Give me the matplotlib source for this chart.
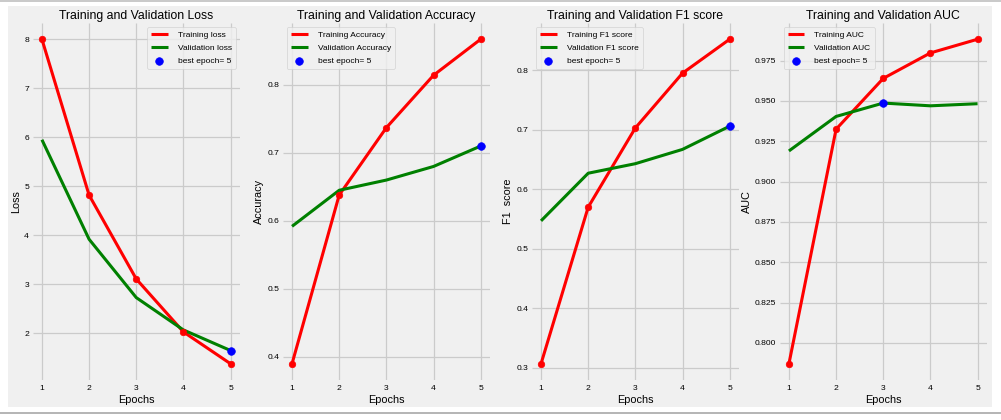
import matplotlib
matplotlib.use("Agg")
import matplotlib.pyplot as plt
from matplotlib.patches import Rectangle
from matplotlib.lines import Line2D

plt.style.use('fivethirtyeight')
plt.rcParams['font.family'] = ['Liberation Sans', 'DejaVu Sans']

epochs = [1, 2, 3, 4, 5]

tr_loss = [8.00, 4.82, 3.11, 2.03, 1.38]
val_loss = [5.95, 3.92, 2.73, 2.07, 1.65]
tr_acc = [0.390, 0.638, 0.737, 0.814, 0.867]
val_acc = [0.592, 0.645, 0.660, 0.680, 0.710]
tr_f1 = [0.307, 0.570, 0.703, 0.795, 0.852]
val_f1 = [0.547, 0.627, 0.643, 0.667, 0.706]
tr_auc = [0.787, 0.9325, 0.964, 0.9798, 0.9883]
val_auc = [0.919, 0.9404, 0.9487, 0.947, 0.9483]

best_epoch = [5, 5, 5, 3]
best_label = 'best epoch= 5'

panels = [
    ('Training and Validation Loss', 'Loss', tr_loss, val_loss, 'Training loss', 'Validation loss', 'upper right'),
    ('Training and Validation Accuracy', 'Accuracy', tr_acc, val_acc, 'Training Accuracy', 'Validation Accuracy', 'upper left'),
    ('Training and Validation F1 score', 'F1  score', tr_f1, val_f1, 'Training F1 score', 'Validation F1 score', 'upper left'),
    ('Training and Validation AUC', 'AUC', tr_auc, val_auc, 'Training AUC', 'Validation AUC', 'upper left'),
]

W, H = 1001, 420
fig = plt.figure(figsize=(W / 100, H / 100), dpi=100, facecolor='white')

# screenshot frame
fig.add_artist(Rectangle((8 / W, 1 - 407 / H), 984 / W, 401 / H, transform=fig.transFigure,
                         facecolor='#f0f0f0', edgecolor='none', zorder=-10))
fig.add_artist(Line2D([0, 1], [1 - 1 / H, 1 - 1 / H], transform=fig.transFigure, color='#c0c0c0', lw=1.2))
fig.add_artist(Line2D([0, 1], [1 - 412.5 / H, 1 - 412.5 / H], transform=fig.transFigure, color='#a8a8a8', lw=1.2))

lefts = [32.5, 282.6, 531.6, 779.5]
ax_w = 207.5
top, bottom = 23, 380

for i, (title, ylab, tr, va, trl, val, loc) in enumerate(panels):
    ax = fig.add_axes([lefts[i] / W, 1 - bottom / H, ax_w / W, (bottom - top) / H])
    ax.set_facecolor('#f0f0f0')
    ax.plot(epochs, tr, color='red', lw=2.2, label=trl)
    ax.plot(epochs, va, color='green', lw=2.2, label=val)
    ax.scatter(epochs, tr, s=22, color='red', zorder=3)
    b = best_epoch[i]
    ax.scatter([b], [va[b - 1]], s=30, color='blue', zorder=4, label=best_label)
    ax.set_title(title, fontsize=8.8, pad=2.8)
    ax.set_xlabel('Epochs', fontsize=7.8, labelpad=2)
    ax.set_ylabel(ylab, fontsize=7.8, labelpad=2)
    ax.set_xticks(epochs)
    ax.tick_params(labelsize=6.1)
    ax.tick_params(axis='x', pad=3.5)
    ax.tick_params(axis='y', pad=2.5)
    ax.grid(True, color='#cbcbcb', lw=0.9)
    for s in ax.spines.values():
        s.set_visible(False)
    ax.legend(loc=loc, fontsize=6, framealpha=0.8, borderpad=0.5, labelspacing=0.6,
              handlelength=2.0, handletextpad=1.2, scatterpoints=1)

fig.savefig('out.png', dpi=100, facecolor='white')
